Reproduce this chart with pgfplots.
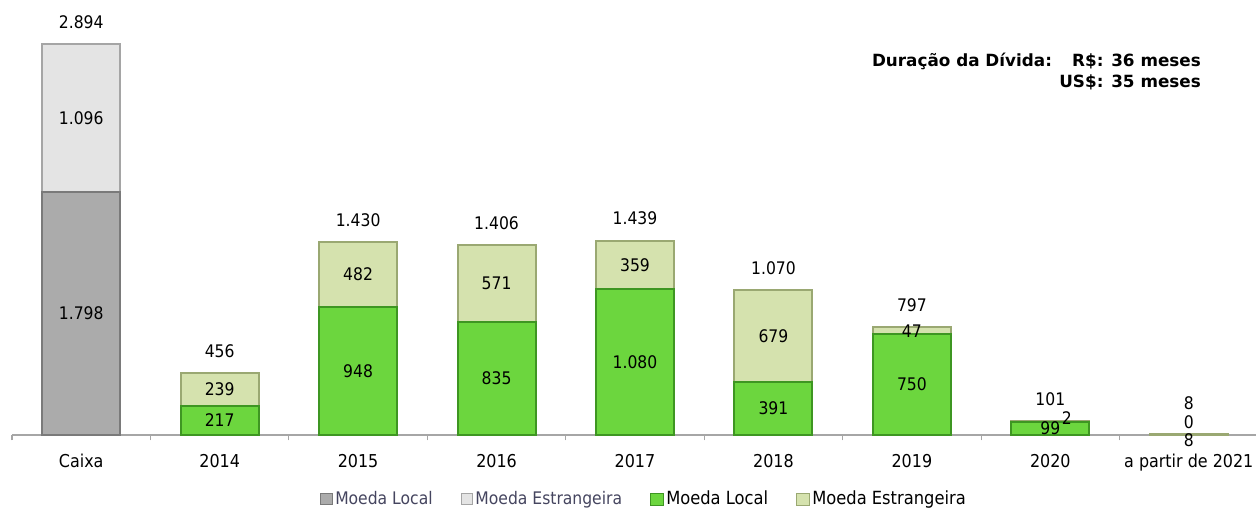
\documentclass[border=0pt]{standalone}
\usepackage{fontspec}
\setmainfont{DejaVu Sans Condensed}
\newfontfamily\titlefont{DejaVu Sans}
\usepackage{pgfplots}
\pgfplotsset{compat=1.18}
\definecolor{gloc}{HTML}{ABABAB}
\definecolor{glocd}{HTML}{7A7A7A}
\definecolor{gest}{HTML}{E4E4E4}
\definecolor{gestd}{HTML}{A5A5A5}
\definecolor{vloc}{HTML}{6CD63E}
\definecolor{vlocd}{HTML}{3E9622}
\definecolor{vest}{HTML}{D5E2AE}
\definecolor{vestd}{HTML}{9AA872}
\definecolor{legtxt}{HTML}{45455F}
\begin{document}
\begin{tikzpicture}
\path[use as bounding box] (-9pt,-55.5pt) rectangle (933pt,326.25pt);
\begin{axis}[
  at={(0,0)}, anchor=south west,
  scale only axis, width=934.5pt, height=314.1pt,
  xmin=-0.5, xmax=8.5, ymin=0, ymax=3100,
  axis x line*=bottom, axis y line=none,
  ytick=\empty,
  xtick={0,...,8},
  xticklabels={Caixa,2014,2015,2016,2017,2018,2019,2020,a partir de 2021},
  minor xtick={-0.5,0.5,...,8.5},
  major tick length=0pt, minor tick length=4pt,
  tick align=outside,
  axis line style={draw=gray!70, line width=0.8pt},
  minor tick style={draw=gray!70, line width=0.8pt},
  xticklabel style={font=\fontsize{13.3}{15}\selectfont, yshift=-11pt},
  clip=false,
  /pgf/number format/.cd, 1000 sep={.}, fixed, precision=0, assume math mode=true,
  /pgfplots/.cd,
  legend columns=4,
  legend style={draw=none, fill=none, at={(0.5076,0)}, anchor=center, yshift=-48pt,
    /tikz/every even column/.append style={column sep=19pt}},
  legend cell align=left,
]
% Estrangeira bars are drawn to the total height, Local bars on top of them
\addplot[ybar, bar width=58.5pt, bar shift=0pt, fill=gloc, draw=glocd, line width=1.5pt,
  legend image code/.code={\draw[fill=gloc,draw=glocd,line width=0.6pt] (0pt,-4pt) rectangle (8.5pt,4pt);}]
  coordinates {(0,2894)};
\addlegendentry{\fontsize{13}{15}\selectfont\color{legtxt}Moeda Local}
\addplot[ybar, bar width=58.5pt, bar shift=0pt, fill=gest, draw=gestd, line width=1.5pt, forget plot]
  coordinates {(0,2894)};
\addplot[ybar, bar width=58.5pt, bar shift=0pt, fill=gloc, draw=glocd, line width=1.5pt, forget plot]
  coordinates {(0,1798)};
\addplot[draw=none, fill=none,
  legend image code/.code={\draw[fill=gest,draw=gestd,line width=0.6pt] (0pt,-4pt) rectangle (8.5pt,4pt);}]
  coordinates {(0,0)};
\addlegendentry{\fontsize{13}{15}\selectfont\color{legtxt}Moeda Estrangeira\hspace{12pt}}
% green series
\addplot[ybar, bar width=58.5pt, bar shift=0pt, fill=vest, draw=vestd, line width=1.5pt, forget plot]
  coordinates {(1,456) (2,1430) (3,1406) (4,1439) (5,1070) (6,797) (7,101) (8,8)};
\addplot[ybar, bar width=58.5pt, bar shift=0pt, fill=vloc, draw=vlocd, line width=1.5pt,
  legend image code/.code={\draw[fill=vloc,draw=vlocd,line width=0.6pt] (0pt,-4.5pt) rectangle (9.5pt,4.5pt);}]
  coordinates {(1,217) (2,948) (3,835) (4,1080) (5,391) (6,750) (7,99)};
\addlegendentry{\fontsize{13.6}{15}\selectfont Moeda Local}
\addplot[draw=none, fill=none,
  legend image code/.code={\draw[fill=vest,draw=vestd,line width=0.6pt] (0pt,-4.5pt) rectangle (9.5pt,4.5pt);}]
  coordinates {(1,0)};
\addlegendentry{\fontsize{13.6}{15}\selectfont Moeda Estrangeira}
% segment labels
\addplot[draw=none, mark=none, forget plot, point meta=explicit, nodes near coords,
  every node near coord/.append style={anchor=center, font=\fontsize{13}{15}\selectfont, text=black}]
  coordinates {(0,899)[1798] (0,2346)[1096]
    (1,108.5)[217] (1,336.5)[239]
    (2,474)[948] (2,1189)[482]
    (3,417.5)[835] (3,1120.5)[571]
    (4,540)[1080] (4,1259.5)[359]
    (5,195.5)[391] (5,730.5)[679]
    (6,375)[750] (6,767)[47]
    (7,52)[99] (7.12,126)[2]
    (8,95)[0] (8,-42)[8]};
% total labels
\addplot[draw=none, mark=none, forget plot, point meta=explicit, nodes near coords,
  every node near coord/.append style={anchor=center, yshift=16.5pt, font=\fontsize{13}{15}\selectfont, text=black}]
  coordinates {(0,2894)[2894] (1,456)[456] (2,1430)[1430] (3,1406)[1406] (4,1439)[1439]
    (5,1070)[1070] (6,797)[797] (7,101)[101] (8,70)[8]};
\node[anchor=north east, align=right, inner sep=0pt, font=\titlefont\bfseries\fontsize{12.6}{15.75}\selectfont]
  at (rel axis cs:0.9543,0.912) {Duração da Dívida:\hspace{1.2em}R\$: 36 meses\\US\$: 35 meses};
\end{axis}
\end{tikzpicture}
\end{document}
